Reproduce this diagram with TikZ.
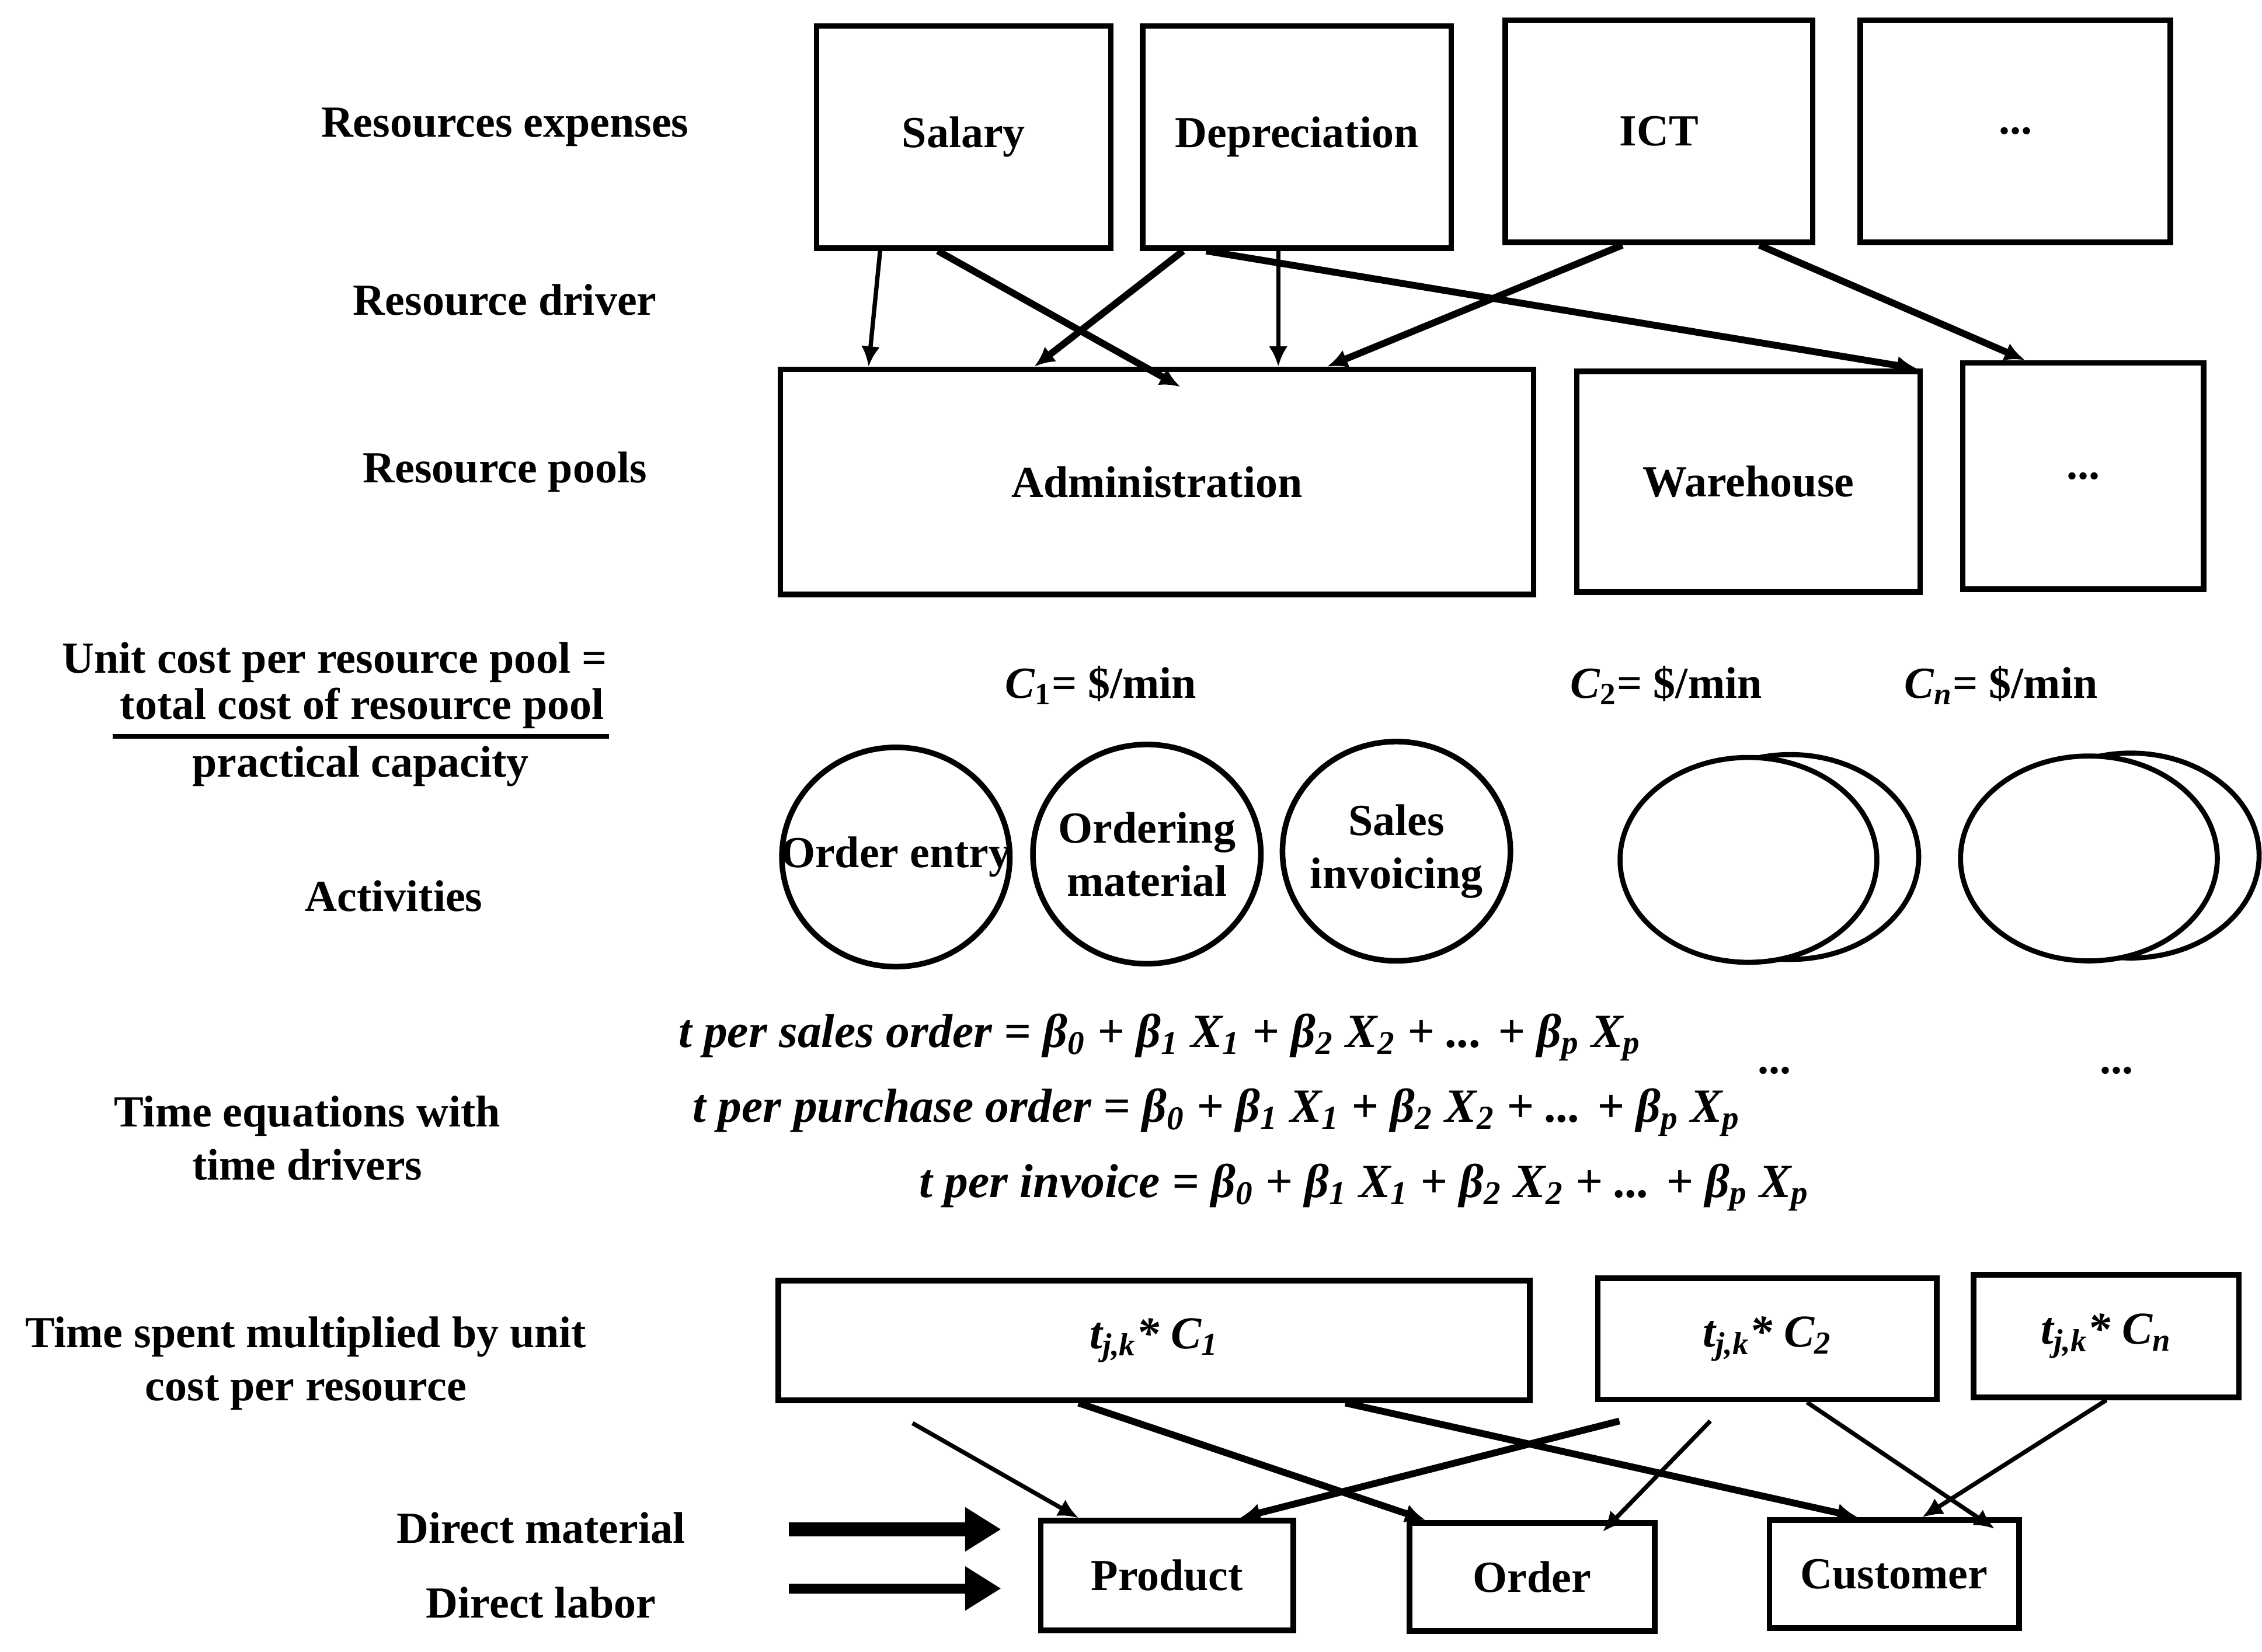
\documentclass[tikz,border=0pt]{standalone}
\usepackage{fontspec}
\setmainfont{Liberation Serif}
\usetikzlibrary{shapes.geometric}
\usetikzlibrary{arrows.meta}
\tikzset{>={Latex[width=2.6mm,length=2.8mm]}}
\newlength{\unitpx}
\setlength{\unitpx}{0.02cm}
\newcommand{\timerhs}{β\textsubscript{0} + β\textsubscript{1} X\textsubscript{1} + β\textsubscript{2} X\textsubscript{2} + ... + β\textsubscript{p} X\textsubscript{p}}

\begin{document}
\begin{tikzpicture}[x=0.02cm, y=-0.02cm, font=\fontsize{17.5}{21}\selectfont\bfseries, box/.style={rectangle, draw=black, line width=2.2pt, fill=white, inner sep=0pt}, activity/.style={ellipse, draw=black, line width=2.2pt, fill=white, inner sep=0pt, minimum width=158\unitpx, minimum height=152\unitpx}, poolact/.style={ellipse, draw=black, line width=2pt, fill=white, inner sep=0pt, minimum width=178\unitpx, minimum height=142\unitpx}, emptynode/.style={draw=none, fill=none, align=center, inner sep=0pt}, eqnode/.style={draw=none, anchor=west, inner sep=0pt, font=\fontsize{18.8}{22}\selectfont\bfseries\itshape}, link/.style={->, line width=1.7pt}, heavylink/.style={->, line width=2.7pt}, bigarrow/.style={-{Triangle[length=5mm,width=5.8mm]}}]
    \useasboundingbox (0,0) rectangle (1568,1145);

    %Row labels
    \node[emptynode](lbl_expenses) at (350,88){Resources expenses};
    \node[emptynode](lbl_driver) at (350,208){Resource driver};
    \node[emptynode](lbl_pools) at (350,327){Resource pools};
    \node[emptynode](lbl_unitcost) at (232,459){Unit cost per resource pool =};
    \node[emptynode](frac_num) at (251,491){total cost of resource pool};
    \node[emptynode](frac_den) at (250,531){practical capacity};
    \node[emptynode](lbl_activities) at (273,621){Activities};
    \node[emptynode](lbl_timeeq) at (213,789){Time equations with\\time drivers};
    \node[emptynode](lbl_timespent) at (212,945){Time spent multiplied by unit\\cost per resource};
    \node[emptynode](lbl_material) at (375,1059){Direct material};
    \node[emptynode](lbl_labor) at (375,1111){Direct labor};

    %Resources
    \node[box, minimum width=204\unitpx, minimum height=154\unitpx](salary) at (668,95){Salary};
    \node[box, minimum width=214\unitpx, minimum height=154\unitpx](depreciation) at (899,95){Depreciation};
    \node[box, minimum width=213\unitpx, minimum height=154\unitpx](ict) at (1150,91){ICT};
    \node[box, minimum width=215\unitpx, minimum height=154\unitpx](res_more) at (1397,91){...};

    %Resource pools
    \node[box, minimum width=522\unitpx, minimum height=156\unitpx](admin) at (802,334){Administration};
    \node[box, minimum width=238\unitpx, minimum height=153\unitpx](warehouse) at (1212,334){Warehouse};
    \node[box, minimum width=167\unitpx, minimum height=157\unitpx](pool_more) at (1444,330){...};

    %Unit costs
    \node[emptynode](cost_one) at (763,475){\textit{C}\textsubscript{1}= \$/min};
    \node[emptynode](cost_two) at (1155,475){\textit{C}\textsubscript{2}= \$/min};
    \node[emptynode](cost_n) at (1387,475){\textit{C}\textsubscript{\textit{n}}= \$/min};

    %Activities
    \node[activity, label={[align=center]center:Order entry}](order_entry) at (621,594){};
    \node[activity, label={[align=center]center:Ordering\\material}](ordering) at (795,592){};
    \node[activity, label={[align=center]center:Sales\\invoicing}](invoicing) at (968,590){};
    \node[poolact](two_back) at (1241,594){};
    \node[poolact](two_front) at (1212,596){};
    \node[poolact](n_back) at (1477,593){};
    \node[poolact](n_front) at (1448,595){};

    %Time equations
    \node[eqnode](eq_sales) at (470,719){t per sales order = \timerhs};
    \node[eqnode](eq_purchase) at (480,771){t per purchase order = \timerhs};
    \node[eqnode](eq_invoice) at (637,823){t per invoice = \timerhs};
    \node[emptynode](dots_two) at (1230,742){...};
    \node[emptynode](dots_n) at (1467,742){...};

    %Time spent boxes
    \node[box, minimum width=521\unitpx, minimum height=83\unitpx, font=\fontsize{18}{21}\selectfont\bfseries\itshape](tc_one) at (800,929){t\textsubscript{j,k}* C\textsubscript{1}};
    \node[box, minimum width=235\unitpx, minimum height=84\unitpx, font=\fontsize{18}{21}\selectfont\bfseries\itshape](tc_two) at (1225,928){t\textsubscript{j,k}* C\textsubscript{2}};
    \node[box, minimum width=184\unitpx, minimum height=85\unitpx, font=\fontsize{18}{21}\selectfont\bfseries\itshape](tc_n) at (1460,926){t\textsubscript{j,k}* C\textsubscript{n}};

    %Cost objects
    \node[box, minimum width=175\unitpx, minimum height=76\unitpx](product) at (809,1092){Product};
    \node[box, minimum width=170\unitpx, minimum height=75\unitpx](order) at (1062,1093){Order};
    \node[box, minimum width=173\unitpx, minimum height=75\unitpx](customer) at (1313,1091){Customer};

    %Direct costs
    \coordinate (mat_start) at (547,1060);
    \coordinate (mat_end) at (694,1060);
    \coordinate (lab_start) at (547,1101);
    \coordinate (lab_end) at (694,1101);

    %Lines
    \draw[line width=1.8pt] ([shift={(-5,5)}]frac_num.south west) -- ([shift={(3,5)}]frac_num.south east);
    \draw[link] ([shift={(46,0)}]salary.south west) -- ([shift={(63,0)}]admin.north west);
    \draw[heavylink] ([shift={(86,0)}]salary.south west) -- ([shift={(279,14)}]admin.north west);
    \draw[heavylink] ([shift={(30,0)}]depreciation.south west) -- ([shift={(178,0)}]admin.north west);
    \draw[link] ([shift={(96,0)}]depreciation.south west) -- ([shift={(347,0)}]admin.north west);
    \draw[heavylink] ([shift={(46,0)}]depreciation.south west) -- ([shift={(-4,0)}]warehouse.north east);
    \draw[heavylink] ([shift={(83,0)}]ict.south west) -- ([shift={(381,0)}]admin.north west);
    \draw[heavylink] ([shift={(178,0)}]ict.south west) -- ([shift={(45,0)}]pool_more.north west);

    \draw[link] ([shift={(95,14)}]tc_one.south west) -- ([shift={(28,0)}]product.north west);
    \draw[heavylink] ([shift={(210,0)}]tc_one.south west) -- ([shift={(13,0)}]order.north west);
    \draw[heavylink] ([shift={(395,0)}]tc_one.south west) -- ([shift={(63,0)}]customer.north west);
    \draw[heavylink] ([shift={(17,13)}]tc_two.south west) -- ([shift={(140,0)}]product.north west);
    \draw[link] ([shift={(80,13)}]tc_two.south west) -- ([shift={(136,8)}]order.north west);
    \draw[link] ([shift={(147,0)}]tc_two.south west) -- ([shift={(158,8)}]customer.north west);
    \draw[link] ([shift={(94,0)}]tc_n.south west) -- ([shift={(108,0)}]customer.north west);

    \draw[bigarrow, line width=5.6pt] (mat_start) -- (mat_end);
    \draw[bigarrow, line width=4pt] (lab_start) -- (lab_end);

\end{tikzpicture}
\end{document}
